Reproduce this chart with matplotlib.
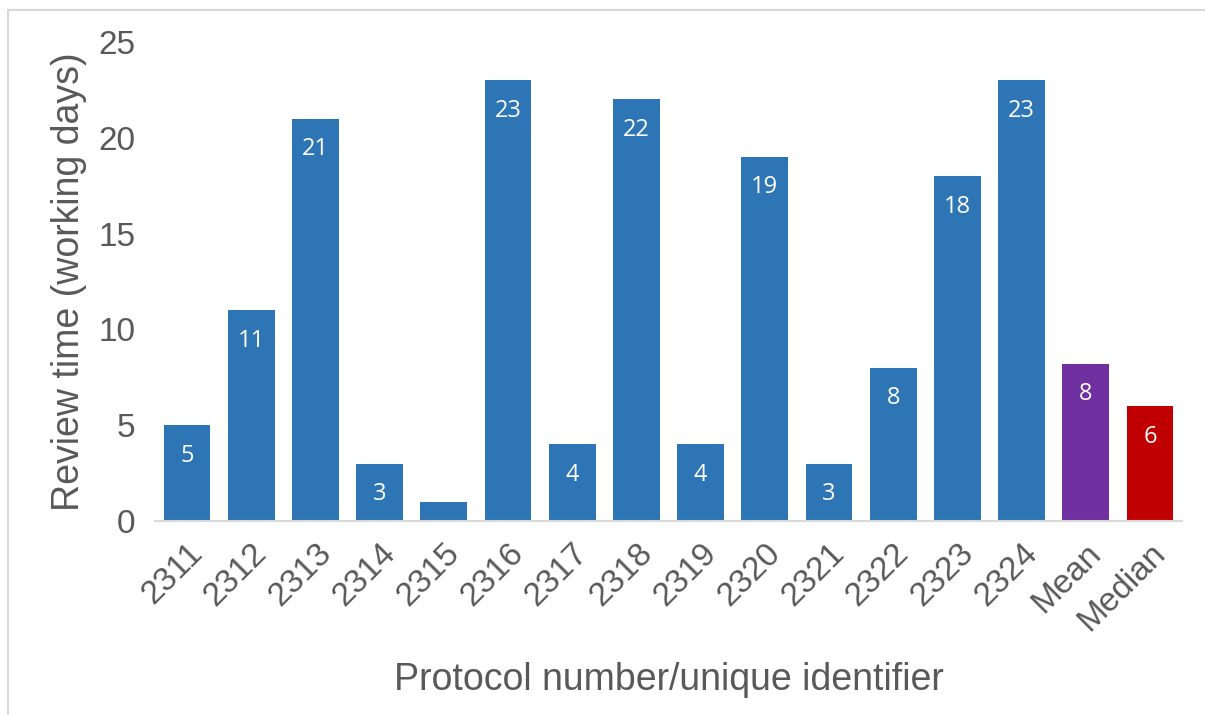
import matplotlib.pyplot as plt
from matplotlib.lines import Line2D

# --- data ---
protocols = ['2311', '2312', '2313', '2314', '2315', '2316', '2317', '2318',
             '2319', '2320', '2321', '2322', '2323', '2324', 'Mean', 'Median']
review_days = [5, 11, 21, 3, 1, 23, 4, 22, 4, 19, 3, 8, 18, 23, 8.2, 6]
bar_labels = ['5', '11', '21', '3', '', '23', '4', '22', '4', '19', '3', '8', '18', '23', '8', '6']

BLUE = '#2E75B6'
colors = [BLUE] * 14 + ['#7030A0', '#C00000']

plt.rcParams['font.family'] = ['Liberation Sans', 'DejaVu Sans']

fig = plt.figure(figsize=(12.05, 7.15), dpi=100)
ax = fig.add_axes([0.1286, 0.2713, 0.8524, 0.6700])

x = list(range(len(protocols)))
ax.bar(x, review_days, width=0.73, color=colors, zorder=2)

# value labels, white, inside the top of each bar
for xi, val, lab in zip(x, review_days, bar_labels):
    if lab:
        ax.annotate(lab, (xi, val), xytext=(0, -22), textcoords='offset points',
                    ha='center', va='center', color='white', fontsize=17,
                    family=['Open Sans', 'DejaVu Sans'])

ax.set_xlim(-0.5, len(protocols) - 0.5)
ax.set_ylim(0, 25)
ax.set_yticks([0, 5, 10, 15, 20, 25])
ax.set_xticks(x)
ax.set_xticklabels(protocols, rotation=45, ha='right', rotation_mode='anchor')

ax.tick_params(axis='both', length=0, labelsize=24, colors='#595959')
ax.tick_params(axis='x', pad=12)
ax.tick_params(axis='y', pad=14)

for side in ['top', 'right', 'left']:
    ax.spines[side].set_visible(False)
ax.spines['bottom'].set_color('#d9d9d9')
ax.spines['bottom'].set_linewidth(1.5)

ax.set_ylabel('Review time (working days)', fontsize=27, color='#595959', labelpad=8)
ax.set_xlabel('Protocol number/unique identifier', fontsize=27, color='#595959', labelpad=18)

# light chart-area border (left and top)
fig.add_artist(Line2D([8 / 1205, 8 / 1205], [0, 1 - 10 / 715], transform=fig.transFigure,
                      color='#d9d9d9', linewidth=1.5))
fig.add_artist(Line2D([8 / 1205, 1], [1 - 10 / 715, 1 - 10 / 715], transform=fig.transFigure,
                      color='#d9d9d9', linewidth=1.5))

fig.savefig('out.png', dpi=100)
